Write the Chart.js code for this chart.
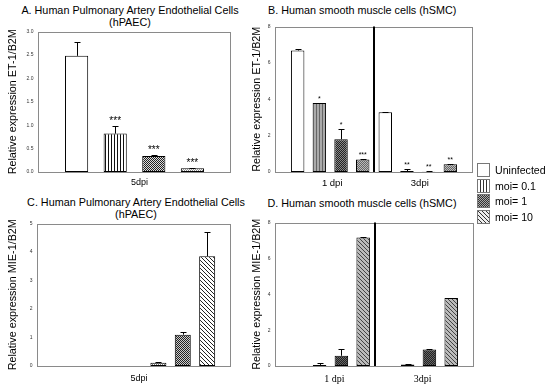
<!DOCTYPE html>
<html>
<head>
<meta charset="utf-8">
<script src="https://cdn.jsdelivr.net/npm/chart.js@4"></script>
<style>
  html, body { margin: 0; padding: 0; background: #fff; }
  #page { position: relative; width: 550px; height: 387px; overflow: hidden; font-family: "Liberation Sans", Arial, sans-serif; }
  .title { position: absolute; font-size: 10.8px; line-height: 12.4px; color: #000; white-space: nowrap; }
  .panel { position: absolute; }
  .leg-row { position: absolute; left: 477px; height: 14px; display: flex; align-items: center; font-size: 10.6px; color: #000; }
  .leg-row canvas { display: block; margin-right: 5px; }
</style>
</head>
<body>
<div id="page">
  <div class="title" style="left:0;width:260px;top:4px;text-align:center">A. Human Pulmonary Artery Endothelial Cells<br>(hPAEC)</div>
  <div class="title" style="left:268px;top:4px">B. Human smooth muscle cells (hSMC)</div>
  <div class="title" style="left:6px;width:260px;top:195.5px;text-align:center">C. Human Pulmonary Artery Endothelial Cells<br>(hPAEC)</div>
  <div class="title" style="left:267.5px;top:196.5px">D. Human smooth muscle cells (hSMC)</div>

  <canvas id="chartA" class="panel" width="237" height="170" style="left:0;top:24px"></canvas>
  <canvas id="chartB" class="panel" width="235" height="175" style="left:244px;top:19px"></canvas>
  <canvas id="chartC" class="panel" width="237" height="172" style="left:0;top:216px"></canvas>
  <canvas id="chartD" class="panel" width="236" height="173" style="left:244px;top:215px"></canvas>

  <div id="legend"></div>
</div>

<script>
// Series order everywhere: Uninfected, moi= 0.1, moi= 1, moi= 10
const seriesNames = ['Uninfected', 'moi= 0.1', 'moi= 1', 'moi= 10'];

// A. ET-1/B2M in hPAEC, 5 dpi
const paecDays = ['5dpi'];
const etPaecMean = [2.48, 0.82, 0.34, 0.08];
const etPaecErr = [0.29, 0.17, 0.03, 0.01];
const etPaecSig = ['', '***', '***', '***'];
const etPaecTicks = [0, 0.5, 1, 1.5, 2, 2.5, 3];

// B. ET-1/B2M in hSMC, rows = series, columns = days
const smcDays = ['1 dpi', '3dpi'];
const etSmcMean = [[6.68, 3.28], [3.79, 0.05], [1.80, 0.02], [0.69, 0.42]];
const etSmcErr = [[0.06, 0.03], [0.03, 0.13], [0.58, 0.02], [0.03, 0.04]];
const etSmcSig = [['', ''], ['*', '**'], ['*', '**'], ['***', '**']];
const etSmcTicks = [0, 2, 4, 6, 8];

// C. MIE-1/B2M in hPAEC, 5 dpi
const mieEmptySlots = 3; // the source figure leaves three empty slots before the bars
const miePaecMean = [0, 0.11, 1.10, 3.85];
const miePaecErr = [0, 0.02, 0.10, 0.84];
const miePaecTicks = [0, 1, 2, 3, 4, 5];

// D. MIE-1/B2M in hSMC
const mieSmcMean = [[0, 0], [0.06, 0.08], [0.57, 0.92], [7.17, 3.79]];
const mieSmcErr = [[0, 0], [0.12, 0.02], [0.35, 0.04], [0.03, 0.02]];
const mieSmcTicks = [0, 2, 4, 6, 8];

const sans = '"Liberation Sans", Arial, sans-serif';
const serif = '"Liberation Serif", "Times New Roman", serif';

function hatch(kind, fg, bg) {
  const n = kind === 'diag' ? 4 : kind === 'vline' ? 3 : 2;
  const c = document.createElement('canvas');
  c.width = n; c.height = n;
  const g = c.getContext('2d');
  g.fillStyle = bg;
  g.fillRect(0, 0, n, n);
  g.fillStyle = fg;
  for (let yy = 0; yy < n; yy++) {
    for (let xx = 0; xx < n; xx++) {
      let on;
      if (kind === 'vline') on = xx === 0;
      else if (kind === 'check') on = (xx + yy) % 2 === 0;
      else on = (xx - yy + n) % n === 0;
      if (on) g.fillRect(xx, yy, 1, 1);
    }
  }
  return g.createPattern(c, 'repeat');
}

// frame, divider line, error bars and significance marks
const decor = {
  id: 'decor',
  afterDatasetsDraw(chart, args, opts) {
    const { ctx, chartArea: a } = chart;
    const y = chart.scales.y, x = chart.scales.x;
    ctx.save();
    ctx.strokeStyle = '#8a8a8a';
    ctx.lineWidth = 1;
    ctx.strokeRect(Math.round(a.left) + 0.5, Math.round(a.top) + 0.5, Math.round(a.width) - 1, Math.round(a.height) - 1);

    if (opts.divider != null) {
      const px = Math.round(x.getPixelForValue(opts.divider));
      ctx.strokeStyle = '#000';
      ctx.lineWidth = 2;
      ctx.beginPath();
      ctx.moveTo(px, a.top);
      ctx.lineTo(px, a.bottom);
      ctx.stroke();
    }

    ctx.strokeStyle = '#000';
    ctx.fillStyle = '#000';
    ctx.lineWidth = 1;
    ctx.textAlign = 'center';
    ctx.textBaseline = 'alphabetic';
    ctx.font = (opts.sigSize || 9) + 'px ' + sans;
    chart.data.datasets.forEach((ds, di) => {
      const meta = chart.getDatasetMeta(di);
      meta.data.forEach((bar, i) => {
        const p = meta.controller.getParsed(i);
        if (!p || p.y == null || isNaN(p.y)) return;
        const e = ds.err ? ds.err[i] : 0;
        const top = y.getPixelForValue(p.y + e);
        const bx = Math.round(bar.x) + 0.5;
        if (e > 0) {
          const cw = Math.min(3, bar.width / 4);
          ctx.beginPath();
          ctx.moveTo(bx, bar.y);
          ctx.lineTo(bx, Math.round(top) + 0.5);
          ctx.moveTo(bx - cw, Math.round(top) + 0.5);
          ctx.lineTo(bx + cw, Math.round(top) + 0.5);
          ctx.stroke();
        }
        const s = ds.sig ? ds.sig[i] : '';
        if (s) ctx.fillText(s, bar.x, top - 2);
      });
    });
    ctx.restore();
  }
};

function yScale(ticks, max, fmt, yw, title) {
  return {
    min: 0, max: max,
    grid: { display: false, drawTicks: false },
    border: { display: false },
    afterBuildTicks: s => { s.ticks = ticks.map(v => ({ value: v })); },
    ticks: { padding: 4.5, font: { size: 5, family: sans }, color: '#333', callback: fmt },
    title: { display: true, text: title, font: { size: 10.8, family: sans }, color: '#000', padding: { top: 6.5, bottom: 0 } },
    afterFit: s => { s.width = yw; }
  };
}

function baseOptions(scales, catPct, barPct, decorOpts) {
  return {
    responsive: false,
    animation: false,
    layout: { padding: { top: 6, right: 6, left: 0, bottom: 0 } },
    datasets: { bar: { categoryPercentage: catPct, barPercentage: barPct, borderColor: '#000', borderWidth: 1, borderSkipped: false } },
    plugins: { legend: { display: false }, tooltip: { enabled: false }, decor: decorOpts },
    scales: scales
  };
}

// ---------- A ----------
const fillA = ['#fff', hatch('vline', '#111', '#fff'), hatch('check', '#222', '#ddd'), hatch('check', '#888', '#fff')];
new Chart(document.getElementById('chartA'), {
  type: 'bar',
  data: {
    labels: paecDays,
    datasets: seriesNames.map((name, k) => ({
      label: name, data: [etPaecMean[k]], err: [etPaecErr[k]], sig: [etPaecSig[k]], backgroundColor: fillA[k]
    }))
  },
  options: baseOptions({
    x: {
      grid: { display: false, drawTicks: false }, border: { display: false },
      ticks: { padding: 5, labelOffset: 5, font: { size: 9, family: sans }, color: '#000' },
      afterFit: s => { s.height = 22; }
    },
    y: yScale(etPaecTicks, 3, v => v.toFixed(1), 38, 'Relative expression ET-1/B2M')
  }, 0.80, 0.60, { sigSize: 10 }),
  plugins: [decor]
});

// ---------- B ----------
const fillB = ['#fff', hatch('vline', '#666', '#aaa'), hatch('check', '#222', '#888'), hatch('check', '#666', '#bbb')];
function linearDayAxis(days, font, offset, pad) {
  return {
    type: 'linear', min: -0.63, max: 1.63, offset: false,
    grid: { display: false, drawTicks: false }, border: { display: false },
    afterBuildTicks: s => { s.ticks = days.map((_, i) => ({ value: i })); },
    ticks: { padding: pad, labelOffset: offset, font: font, color: '#000', autoSkip: false, maxRotation: 0, callback: v => days[v] },
    afterFit: s => { s.height = 22; }
  };
}
new Chart(document.getElementById('chartB'), {
  type: 'bar',
  data: {
    datasets: seriesNames.map((name, k) => ({
      label: name,
      data: smcDays.map((_, i) => ({ x: i, y: etSmcMean[k][i] })),
      err: etSmcErr[k], sig: etSmcSig[k], backgroundColor: fillB[k]
    }))
  },
  options: baseOptions({
    x: linearDayAxis(smcDays, { size: 9.5, family: sans }, 2, 5.5),
    y: yScale(etSmcTicks, 8, v => String(v), 31, 'Relative expression ET-1/B2M')
  }, 0.99, 0.62, { divider: 0.5, sigSize: 7 }),
  plugins: [decor]
});

// ---------- C ----------
const fillC = ['#fff', hatch('check', '#777', '#fff'), hatch('check', '#222', '#ccc'), hatch('diag', '#222', '#fff')];
const emptySets = Array.from({ length: mieEmptySlots }, () => ({ label: '', data: [null] }));
new Chart(document.getElementById('chartC'), {
  type: 'bar',
  data: {
    labels: paecDays,
    datasets: emptySets.concat(seriesNames.map((name, k) => ({
      label: name, data: [miePaecMean[k]], err: [miePaecErr[k]], backgroundColor: fillC[k]
    })))
  },
  options: baseOptions({
    x: {
      grid: { display: false, drawTicks: false }, border: { display: false },
      ticks: { padding: 7, labelOffset: 5, font: { size: 9, family: sans }, color: '#000' },
      afterFit: s => { s.height = 22; }
    },
    y: yScale(miePaecTicks, 5, v => String(v), 37, 'Relative expression MIE-1/B2M')
  }, 0.88, 0.656, {}),
  plugins: [decor]
});

// ---------- D ----------
const fillD = ['#fff', hatch('check', '#777', '#ccc'), hatch('check', '#222', '#666'), hatch('diag', '#444', '#bbb')];
new Chart(document.getElementById('chartD'), {
  type: 'bar',
  data: {
    datasets: seriesNames.map((name, k) => ({
      label: name,
      data: smcDays.map((_, i) => ({ x: i, y: mieSmcMean[k][i] })),
      err: mieSmcErr[k], backgroundColor: fillD[k]
    }))
  },
  options: baseOptions({
    x: linearDayAxis(smcDays, { size: 10, family: serif }, 4, 7),
    y: yScale(mieSmcTicks, 8, v => String(v), 31, 'Relative expression MIE-1/B2M')
  }, 0.99, 0.62, { divider: 0.5 }),
  plugins: [decor]
});

// ---------- legend ----------
const legendFills = [['#fff'], ['vline', '#333', '#fff'], ['check', '#333', '#aaa'], ['diag', '#333', '#eee']];
const legend = document.getElementById('legend');
seriesNames.forEach((name, k) => {
  const row = document.createElement('div');
  row.className = 'leg-row';
  row.style.top = (163 + k * 15.5) + 'px';
  const sw = document.createElement('canvas');
  sw.width = 13; sw.height = 14;
  const g = sw.getContext('2d');
  const f = legendFills[k];
  g.fillStyle = f.length === 1 ? f[0] : hatch(f[0], f[1], f[2]);
  g.fillRect(0, 0, 13, 14);
  g.strokeStyle = '#777';
  g.strokeRect(0.5, 0.5, 12, 13);
  row.appendChild(sw);
  const t = document.createElement('span');
  t.textContent = name;
  row.appendChild(t);
  legend.appendChild(row);
});
</script>
</body>
</html>
